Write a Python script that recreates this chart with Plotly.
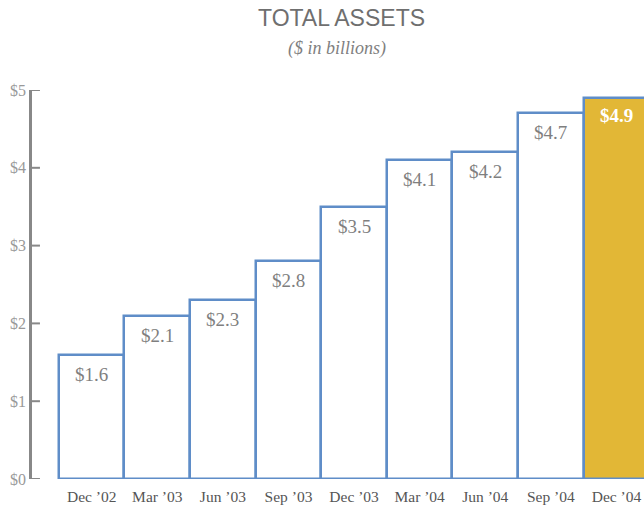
import plotly.graph_objects as go

categories = ["Dec ’02", "Mar ’03", "Jun ’03", "Sep ’03", "Dec ’03",
              "Mar ’04", "Jun ’04", "Sep ’04", "Dec ’04"]
values = [1.6, 2.1, 2.3, 2.8, 3.5, 4.1, 4.2, 4.7, 4.9]
labels = ["$1.6", "$2.1", "$2.3", "$2.8", "$3.5", "$4.1", "$4.2", "$4.7", "$4.9"]
tick_vals = [0, 1, 2, 3, 4, 5]
tick_text = ["$0", "$1", "$2", "$3", "$4", "$5"]

blue = "#5F8DC8"
gold = "#E2B736"
axis_gray = "#888888"
fills = ["white"] * (len(values) - 1) + [gold]
serif = "Liberation Serif, Times New Roman, serif"

fig = go.Figure()
fig.add_trace(go.Bar(
    x=list(range(len(categories))), y=values,
    marker=dict(color=fills, line=dict(color=blue, width=2.5)),
    width=1.0, hoverinfo="skip", cliponaxis=True,
))

for i, (v, t) in enumerate(zip(values, labels)):
    last = i == len(values) - 1
    fig.add_annotation(
        x=i, y=v, text=f"<b>{t}</b>" if last else t, showarrow=False,
        yanchor="top", yshift=-7 if not last else -5,
        font=dict(family=serif, size=19, color="white" if last else "#7f7f7f"),
    )

# short tick marks pointing into the plot from the y axis line
for tv in tick_vals:
    fig.add_shape(type="line", xref="paper", yref="y", x0=0, x1=0.013, y0=tv, y1=tv,
                  line=dict(color=axis_gray, width=2), layer="above")

fig.add_annotation(xref="paper", yref="paper", x=0.505, y=1, yshift=72,
                   text="TOTAL ASSETS", showarrow=False, yanchor="middle",
                   font=dict(family="Liberation Sans, Arial, sans-serif", size=23, color="#6f6f6f"))
fig.add_annotation(xref="paper", yref="paper", x=0.499, y=1, yshift=42,
                   text="<i>($ in billions)</i>", showarrow=False, yanchor="middle",
                   font=dict(family=serif, size=18, color="#7f7f7f"))

fig.update_layout(
    width=644, height=510,
    margin=dict(l=32, r=0, t=90, b=31),
    paper_bgcolor="white", plot_bgcolor="white",
    showlegend=False, bargap=0,
    xaxis=dict(range=[-0.91, 8.42], tickmode="array",
               tickvals=list(range(len(categories))), ticktext=categories,
               showgrid=False, zeroline=False, showline=False, ticks="",
               ticklabelstandoff=6,
               tickfont=dict(family=serif, size=15.5, color="#555555"),
               fixedrange=True),
    yaxis=dict(range=[0, 5], tickmode="array", tickvals=tick_vals, ticktext=tick_text,
               showgrid=False, zeroline=False, showline=True, linecolor=axis_gray, linewidth=2.5,
               ticks="",
               tickfont=dict(family=serif, size=16, color="#999999"),
               fixedrange=True),
)

fig.write_html("out.html")
